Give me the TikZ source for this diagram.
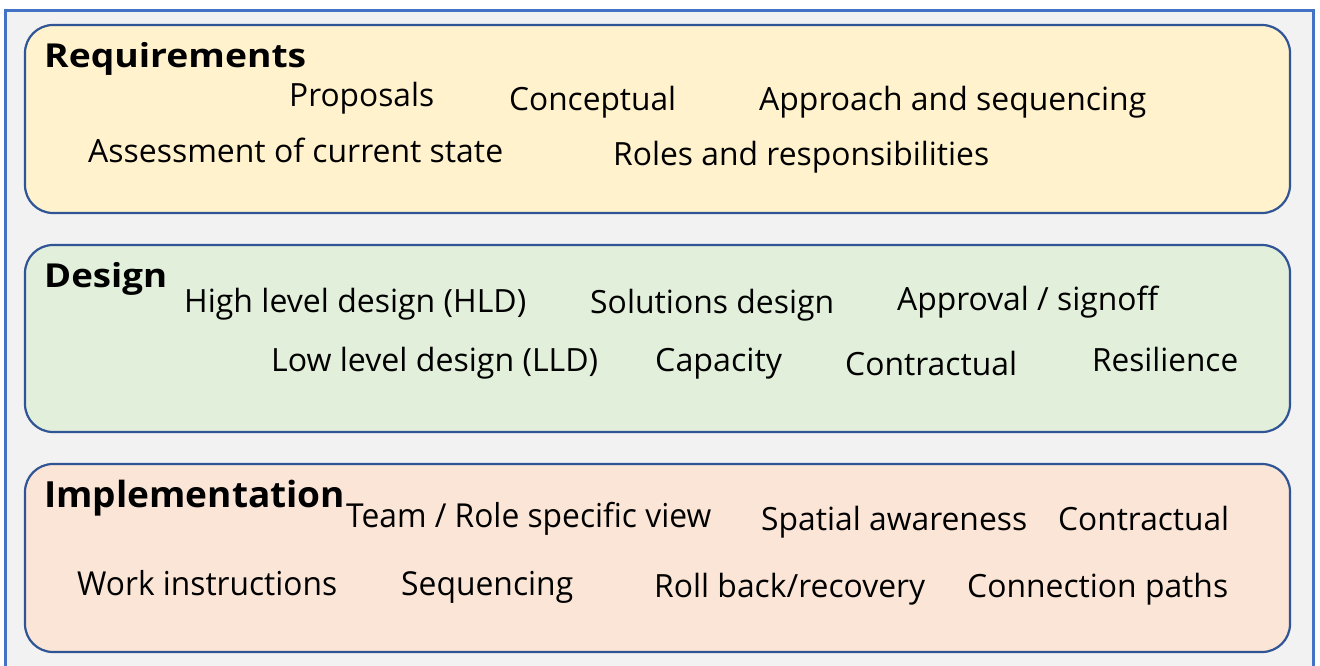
\documentclass[tikz,border=0pt]{standalone}
\usepackage{fontspec}
\setmainfont{Open Sans}
\usepackage{graphicx}
\newsavebox{\fitbox}
\newcommand{\fitw}[2]{\sbox{\fitbox}{#2}\pgfmathsetmacro{\fitsx}{#1/\the\wd\fitbox}\scalebox{\fitsx}[1]{\usebox{\fitbox}}}
\definecolor{frameblue}{HTML}{4472C4}
\definecolor{boxblue}{HTML}{2F5597}
\definecolor{bggray}{HTML}{F2F2F2}
\definecolor{reqfill}{HTML}{FFF2CC}
\definecolor{desfill}{HTML}{E2EFDA}
\definecolor{impfill}{HTML}{FBE5D6}
\tikzset{
  layer/.style={draw=boxblue, line width=2.2pt, rounded corners=28pt},
  item/.style={anchor=base west, inner sep=0pt, font=\fontsize{32}{38}\selectfont},
  title/.style={anchor=base west, inner sep=0pt, font=\fontsize{33}{40}\selectfont\bfseries}
}
\begin{document}
\begin{tikzpicture}[x=1pt,y=-1pt]
\useasboundingbox (0,0) rectangle (1320,665);
\begin{scope}
\clip (0,0) rectangle (1320,665);
\draw[fill=bggray, draw=frameblue, line width=3.2pt] (5.5,10.5) rectangle (1313.5,700);
\end{scope}
% layers
\draw[layer, fill=reqfill] (25,25) rectangle (1290,213);
\draw[layer, fill=desfill] (25,245) rectangle (1290,432);
\draw[layer, fill=impfill] (25,464) rectangle (1290,652);
% Requirements
\node[title] (req) at (44,67) {\fitw{262}{Requirements}};
\node[item] (r1) at (289,106) {\fitw{145}{Proposals}};
\node[item] (r2) at (509,110) {\fitw{167}{Conceptual}};
\node[item] (r3) at (759,110) {\fitw{387}{Approach and sequencing}};
\node[item] (r4) at (88,162) {\fitw{415}{Assessment of current state}};
\node[item] (r5) at (613,165) {\fitw{376}{Roles and responsibilities}};
% Design
\node[title] (des) at (44,287) {\fitw{123}{Design}};
\node[item] (d1) at (184,312) {\fitw{342}{High level design (HLD)}};
\node[item] (d2) at (590,313) {\fitw{244}{Solutions design}};
\node[item] (d3) at (897,310) {\fitw{261}{Approval / signoff}};
\node[item] (d4) at (271,371) {\fitw{327}{Low level design (LLD)}};
\node[item] (d5) at (655,371) {\fitw{127}{Capacity}};
\node[item] (d6) at (845,375) {\fitw{172}{Contractual}};
\node[item] (d7) at (1092,371) {\fitw{146}{Resilience}};
% Implementation
\node[title, font=\fontsize{36}{42}\selectfont\bfseries] (imp) at (44,507) {\fitw{301}{Implementation}};
\node[item, font=\fontsize{33}{40}\selectfont] (i1) at (346,527) {\fitw{365}{Team / Role specific view}};
\node[item] (i2) at (761,530) {\fitw{266}{Spatial awareness}};
\node[item] (i3) at (1058,530) {\fitw{171}{Contractual}};
\node[item, font=\fontsize{33}{40}\selectfont] (i4) at (77,595) {\fitw{260}{Work instructions}};
\node[item, font=\fontsize{33}{40}\selectfont] (i5) at (401,595) {\fitw{172}{Sequencing}};
\node[item] (i6) at (654,597) {\fitw{271}{Roll back/recovery}};
\node[item] (i7) at (967,597) {\fitw{261}{Connection paths}};
\end{tikzpicture}
\end{document}
